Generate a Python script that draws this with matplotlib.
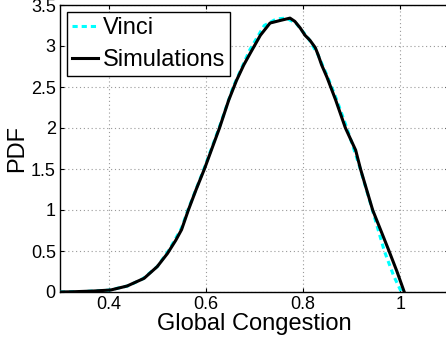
import matplotlib
matplotlib.use("Agg")
import matplotlib.pyplot as plt

# Data
sim_x = [0.30, 0.327, 0.369, 0.404, 0.438, 0.473, 0.50, 0.521, 0.538, 0.55, 0.564,
         0.58, 0.597, 0.628, 0.647, 0.663, 0.678, 0.692, 0.712, 0.732, 0.752, 0.766,
         0.773, 0.783, 0.794, 0.804, 0.814, 0.825, 0.831, 0.838, 0.849, 0.867, 0.887,
         0.908, 0.918, 0.943, 0.976, 0.993, 1.008]
sim_y = [0.0, 0.003, 0.012, 0.024, 0.073, 0.167, 0.31, 0.47, 0.63, 0.76, 1.0,
         1.25, 1.5, 2.0, 2.34, 2.58, 2.77, 2.92, 3.13, 3.28, 3.31, 3.33,
         3.34, 3.30, 3.22, 3.13, 3.07, 2.98, 2.89, 2.77, 2.62, 2.34, 2.0,
         1.73, 1.5, 1.0, 0.51, 0.25, 0.0]

vinci_x = [0.30, 0.35, 0.40, 0.44, 0.47, 0.50, 0.525, 0.55, 0.563, 0.596, 0.627,
           0.656, 0.69, 0.72, 0.745, 0.765, 0.785, 0.81, 0.83, 0.85, 0.87, 0.89,
           0.915, 0.94, 0.967, 0.986, 1.002]
vinci_y = [0.0, 0.006, 0.022, 0.075, 0.16, 0.31, 0.52, 0.78, 1.0, 1.5, 2.0,
           2.5, 2.95, 3.25, 3.33, 3.34, 3.28, 3.1, 2.9, 2.63, 2.33, 2.0,
           1.55, 1.05, 0.5, 0.2, 0.0]

x_ticks = [0.4, 0.6, 0.8, 1.0]
x_tick_labels = ["0.4", "0.6", "0.8", "1"]
y_ticks = [0, 0.5, 1, 1.5, 2, 2.5, 3, 3.5]
y_tick_labels = ["0", "0.5", "1", "1.5", "2", "2.5", "3", "3.5"]

plt.rcParams['font.family'] = ['Liberation Sans', 'DejaVu Sans']

fig = plt.figure(figsize=(4.46, 3.5), dpi=100)
ax = fig.add_axes([60 / 446, 58 / 350, (449 - 60) / 446, 287 / 350])

ax.plot(vinci_x, vinci_y, color=(0, 1, 1), lw=2.2, dashes=(1.7, 1.3), label="Vinci", zorder=3)
ax.plot(sim_x, sim_y, color="black", lw=2.2, label="Simulations", zorder=4)

ax.set_xlim(0.3, 1.1)
ax.set_ylim(0, 3.5)
ax.set_xticks(x_ticks)
ax.set_xticklabels(x_tick_labels)
ax.set_yticks(y_ticks)
ax.set_yticklabels(y_tick_labels)

ax.tick_params(direction="in", top=True, right=True, length=3, width=0.8,
               labelsize=13, pad=3)
ax.grid(True, color="#999999", linestyle=(0, (1, 2.5)), linewidth=0.8)
for s in ax.spines.values():
    s.set_linewidth(1.0)

ax.set_xlabel("Global Congestion", fontsize=17, labelpad=0)
ax.set_ylabel("PDF", fontsize=17, labelpad=2)

leg = ax.legend(loc="upper left", fontsize=17, frameon=True, fancybox=False,
                edgecolor="black", framealpha=1, handlelength=1.1,
                handletextpad=0.2, labelspacing=0.45, borderpad=0.2,
                borderaxespad=0.3)
leg.get_frame().set_linewidth(1.0)

fig.savefig("out.png", dpi=100)
